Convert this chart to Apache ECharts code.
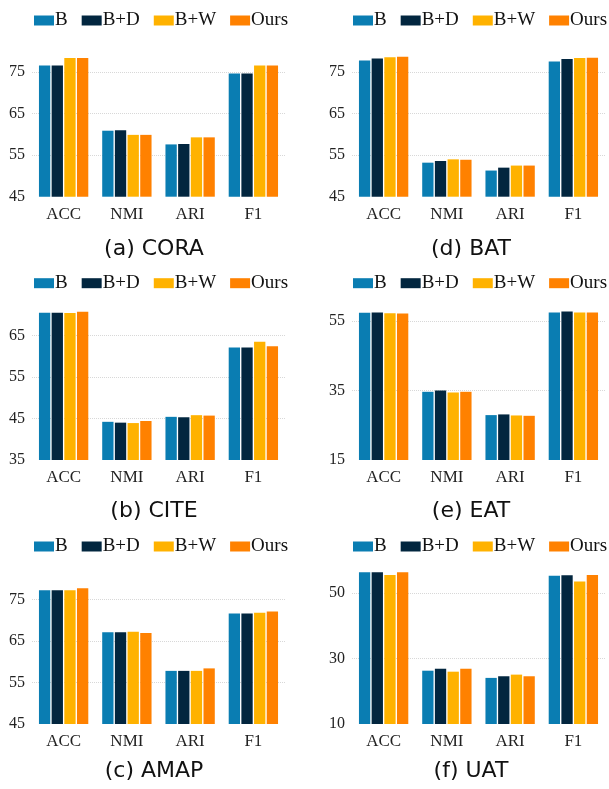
<!DOCTYPE html>
<html>
<head>
<meta charset="utf-8">
<script src="https://cdn.jsdelivr.net/npm/echarts@6/dist/echarts.min.js"></script>
<style>
    html, body { margin: 0; padding: 0; background: #fff; }
    #chart { width: 609px; height: 789px; }
</style>
</head>
<body>
<div id="chart"></div>
<script>
    //data
    var metrics = ['ACC', 'NMI', 'ARI', 'F1'];
    var methods = ['B', 'B+D', 'B+W', 'Ours'];
    var colors = ['#0a7db2', '#02263f', '#ffb200', '#ff8100'];

    // one row per method (B, B+D, B+W, Ours), one column per metric
    var cora = [
        [76.6, 60.9, 57.6, 74.7],
        [76.6, 61.0, 57.7, 74.7],
        [78.4, 59.9, 59.3, 76.6],
        [78.4, 59.9, 59.3, 76.6]
    ];
    var cite = [
        [70.5, 44.2, 45.4, 62.1],
        [70.5, 44.0, 45.3, 62.1],
        [70.4, 43.9, 45.8, 63.5],
        [70.7, 44.4, 45.7, 62.4]
    ];
    var amap = [
        [77.2, 67.1, 57.8, 71.6],
        [77.2, 67.1, 57.8, 71.6],
        [77.2, 67.2, 57.8, 71.8],
        [77.7, 66.9, 58.4, 72.1]
    ];
    var bat = [
        [77.8, 53.2, 51.3, 77.6],
        [78.3, 53.6, 52.0, 78.2],
        [78.6, 54.0, 52.5, 78.4],
        [78.7, 53.9, 52.5, 78.5]
    ];
    var eat = [
        [57.3, 34.6, 27.9, 57.4],
        [57.4, 35.0, 28.1, 57.7],
        [57.2, 34.4, 27.8, 57.4],
        [57.1, 34.6, 27.7, 57.4]
    ];
    var uat = [
        [56.4, 26.3, 24.1, 55.3],
        [56.4, 26.9, 24.6, 55.5],
        [55.6, 26.0, 25.1, 53.6],
        [56.4, 26.9, 24.6, 55.6]
    ];

    // panel captions and axis ranges
    var captions = ['(a) CORA', '(b) CITE', '(c) AMAP', '(d) BAT', '(e) EAT', '(f) UAT'];
    var datasets = [cora, cite, amap, bat, eat, uat];
    var yMin = [45, 35, 45, 45, 15, 10];
    var yMax = [80, 71, 80, 80, 58, 57];
    var yStep = [10, 10, 10, 10, 20, 20];

    //layout (pixels)
    var colLeft = [32, 352];
    var rowBottom = [196.7, 460, 724];
    var pxPerUnit = [4.15, 4.15, 4.15, 4.15, 3.48, 3.27];
    var legendLeft = [34, 353];
    var legendCenter = [18, 280.7, 544];
    var captionX = [149, 466];
    var captionY = [246, 508, 768];

    var serif = 'Liberation Serif';

    var option = {
        animation: false,
        backgroundColor: '#fff',
        title: [],
        legend: [],
        grid: [],
        xAxis: [],
        yAxis: [],
        series: []
    };

    for (var i = 0; i < datasets.length; i++) {
        var col = Math.floor(i / 3);
        var row = i % 3;
        var height = (yMax[i] - yMin[i]) * pxPerUnit[i];

        option.grid.push({
            left: colLeft[col],
            top: rowBottom[row] - height,
            width: 253,
            height: height
        });

        option.title.push({
            text: captions[i],
            left: captionX[col],
            top: captionY[row] - 13,
            textAlign: 'center',
            textStyle: {
                fontFamily: 'DejaVu Sans',
                fontWeight: 'normal',
                fontSize: 22,
                color: '#111'
            }
        });

        option.legend.push({
            data: methods,
            left: legendLeft[col],
            top: legendCenter[row] - 7,
            padding: 0,
            itemWidth: 20,
            itemHeight: 10,
            itemGap: 14,
            icon: 'rect',
            textStyle: {
                fontFamily: serif,
                fontSize: 19,
                color: '#111',
                padding: [0, 0, 0, -4]
            }
        });

        option.xAxis.push({
            type: 'category',
            gridIndex: i,
            data: metrics,
            axisLine: {show: false},
            axisTick: {show: false},
            axisLabel: {
                margin: 9,
                fontFamily: serif,
                fontSize: 17,
                color: '#222'
            }
        });

        option.yAxis.push({
            type: 'value',
            gridIndex: i,
            min: yMin[i],
            max: yMax[i],
            interval: yStep[i],
            axisLine: {show: false},
            axisTick: {show: false},
            axisLabel: {
                margin: 7,
                showMaxLabel: false,
                fontFamily: serif,
                fontSize: 16,
                color: '#222'
            },
            splitLine: {
                show: true,
                showMinLine: false,
                showMaxLine: false,
                lineStyle: {color: '#d8d8d8', type: 'dotted', width: 1}
            }
        });

        for (var m = 0; m < methods.length; m++) {
            option.series.push({
                name: methods[m],
                type: 'bar',
                xAxisIndex: i,
                yAxisIndex: i,
                barGap: '12%',
                barCategoryGap: '22%',
                itemStyle: {color: colors[m]},
                data: datasets[i][m]
            });
        }
    }

    var myChart = echarts.init(document.getElementById('chart'), null, {renderer: 'canvas'});
    myChart.setOption(option);
</script>
</body>
</html>
